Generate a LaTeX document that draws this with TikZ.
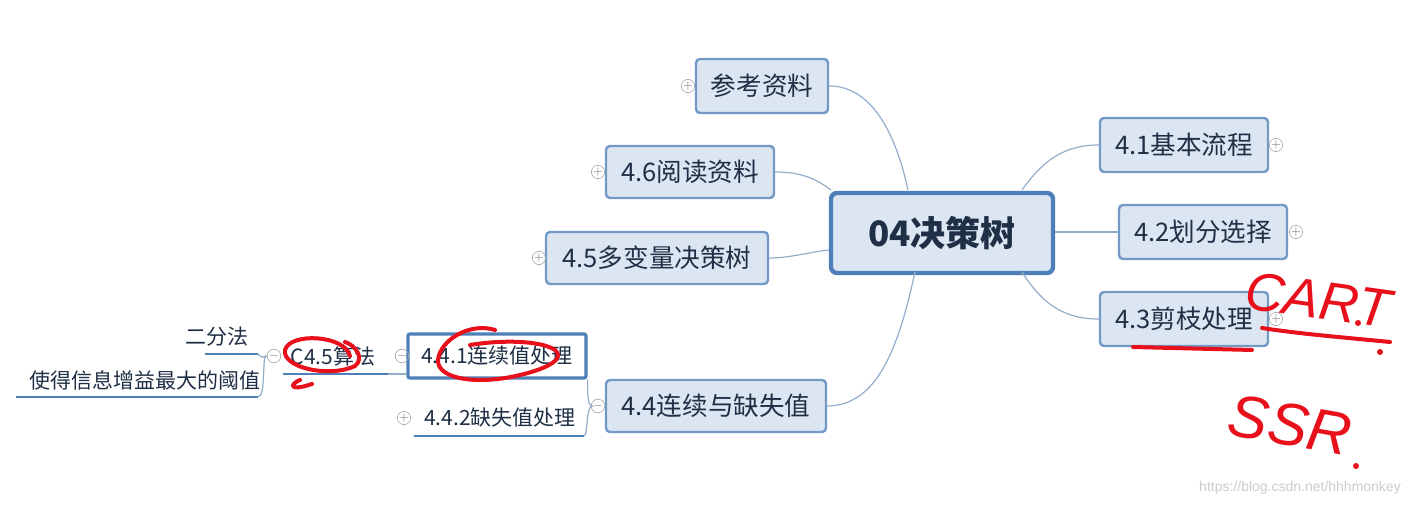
\documentclass[tikz,border=0pt]{standalone}
\usepackage{fontspec}
\setmainfont{Noto Sans CJK SC}
\newfontfamily\hand{Liberation Sans}
\definecolor{boxfill}{HTML}{DCE6F2}
\definecolor{boxline}{HTML}{7399C6}
\definecolor{txt}{HTML}{1F2F45}
\definecolor{conn}{HTML}{93AECB}
\definecolor{under}{HTML}{4F7FB8}
\definecolor{pen}{HTML}{E8101A}
\tikzset{
 topic/.style={draw=boxline,line width=1.2pt,fill=boxfill,rounded corners=2pt,text=txt,font=\fontsize{12.8}{14}\selectfont,inner sep=0pt},
 leaf/.style={text=txt,font=\fontsize{10.5}{12}\selectfont,inner sep=0pt},
 conn/.style={draw=conn,line width=0.6pt},
 ul/.style={draw=under,line width=1.2pt},
 icon/.style={circle,draw=gray!70,line width=0.3pt,minimum size=4pt,inner sep=0pt,font=\fontsize{3}{3}\selectfont,text=gray},
 red/.style={draw=pen,line width=2pt,line cap=round,line join=round}
}
\begin{document}
\begin{tikzpicture}[x=0.5pt,y=-0.5pt]
\useasboundingbox (0,0) rectangle (1425,506);
\fill[white] (0,0) rectangle (1425,506);
% center
\node[draw=under,line width=2.2pt,fill=boxfill,rounded corners=3pt,minimum width=111pt,minimum height=40pt,text=txt,font=\fontsize{17.5}{19}\selectfont\bfseries] (c) at (942,233) {04决策树};
\node[topic,minimum width=66pt,minimum height=27pt] (ck) at (762,86) {参考资料};
\node[topic,minimum width=84pt,minimum height=26pt] (t46) at (690,172) {4.6阅读资料};
\node[topic,minimum width=111pt,minimum height=26pt] (t45) at (657,258) {4.5多变量决策树};
\node[topic,minimum width=110pt,minimum height=26pt] (t44) at (716,406) {4.4连续与缺失值};
\node[topic,minimum width=84pt,minimum height=27pt] (t41) at (1184,145) {4.1基本流程};
\node[topic,minimum width=84pt,minimum height=27pt] (t42) at (1203,232) {4.2划分选择};
\node[topic,minimum width=84pt,minimum height=27pt] (t43) at (1184,319) {4.3剪枝处理};
\node[draw=under,line width=1.6pt,fill=white,rounded corners=1pt,minimum width=89pt,minimum height=22pt,leaf] (t441) at (497,356) {4.4.1连续值处理};
\node[leaf] (t442) at (500,418) {4.4.2缺失值处理};
\node[leaf] (c45) at (333,356) {C4.5算法};
\node[leaf] (ef) at (217,337) {二分法};
\node[leaf] (sd) at (145,380) {使得信息增益最大的阈值};
% icons
\foreach \n/\p/\s in {i1/{688,86}/+,i2/{598,172}/+,i3/{539,258}/+,i4/{598,406}/-,i5/{1276,145}/+,i6/{1296,232}/+,i7/{1276,319}/+,i8/{402,356}/-,i9/{404,418}/+,i10/{274,356}/-}
  \node[icon] (\n) at (\p) {$\s$};
% connectors
\coordinate (cl1) at (908,190); \coordinate (cl2) at (831,190);
\coordinate (cb1) at (915,272); \coordinate (cr1) at (1022,190); \coordinate (cr3) at (1022,272);
\draw[conn] (cl1) .. controls (895,130) and (870,86) .. (ck.east);
\draw[conn] (cl2) .. controls (815,178) and (800,172) .. (t46.east);
\draw[conn] (c.west|-0,250) .. controls (810,252) and (790,258) .. (t45.east);
\draw[conn] (cb1) .. controls (900,340) and (880,406) .. (t44.east);
\draw[conn] (cr1) .. controls (1040,165) and (1060,145) .. (t41.west);
\draw[conn] (c.east|-t42) -- (t42.west);
\draw[conn] (cr3) .. controls (1040,300) and (1060,319) .. (t43.west);
% 4.4 children
\coordinate (u442l) at (414,436); \coordinate (u442r) at (584,436);
\draw[ul] (u442l) -- (u442r);
\draw[conn] (i4.west) -- (592,406) .. controls (586,406) and (588,380) .. (t441.south east);
\draw[conn] (592,406) .. controls (586,406) and (588,436) .. (u442r);
% C4.5
\coordinate (u45l) at (283,374); \coordinate (u45r) at (388,374);
\draw[ul] (u45l) -- (u45r);
\draw[conn] (u45r) -- (t441.west|-u45r);
\coordinate (ueL) at (205,354); \coordinate (ueR) at (258,354);
\coordinate (usL) at (16,397); \coordinate (usR) at (258,397);
\draw[ul] (ueL) -- (ueR);
\draw[ul] (usL) -- (usR);
\draw[conn] (i10.west) -- (266,356) .. controls (262,356) and (264,360) .. (ueR);
\draw[conn] (266,356) .. controls (262,356) and (266,397) .. (usR);
% handwriting
\draw[red] (350,356) .. controls (345,335) and (290,332) .. (285,350) .. controls (282,368) and (330,378) .. (355,366) .. controls (365,358) and (355,345) .. (345,342);
\draw[red] (300,380) .. controls (290,384) and (288,392) .. (312,384);
\draw[red] (495,330) .. controls (470,322) and (440,340) .. (438,360) .. controls (437,380) and (480,385) .. (520,375) .. controls (550,368) and (565,358) .. (555,350) .. controls (540,340) and (500,340) .. (470,345);
\draw[red] (1133,347) -- (1252,350);
\draw[red] (1262,328) .. controls (1300,334) and (1350,338) .. (1390,342);
\fill[pen] (1380,352) circle (3);
\node[text=pen,font=\hand\itshape\fontsize{27}{27}\selectfont,rotate=-8] (cart) at (1318,300) {CART};
\fill[pen] (1358,323) circle (3);
\node[text=pen,font=\hand\itshape\fontsize{30}{30}\selectfont,rotate=-10] (ssr) at (1290,425) {SSR};
\fill[pen] (1356,466) circle (3);
\node[text=gray!40,font=\hand\fontsize{7}{8}\selectfont] (wm) at (1300,488) {https://blog.csdn.net/hhhmonkey};
\end{tikzpicture}
\end{document}
